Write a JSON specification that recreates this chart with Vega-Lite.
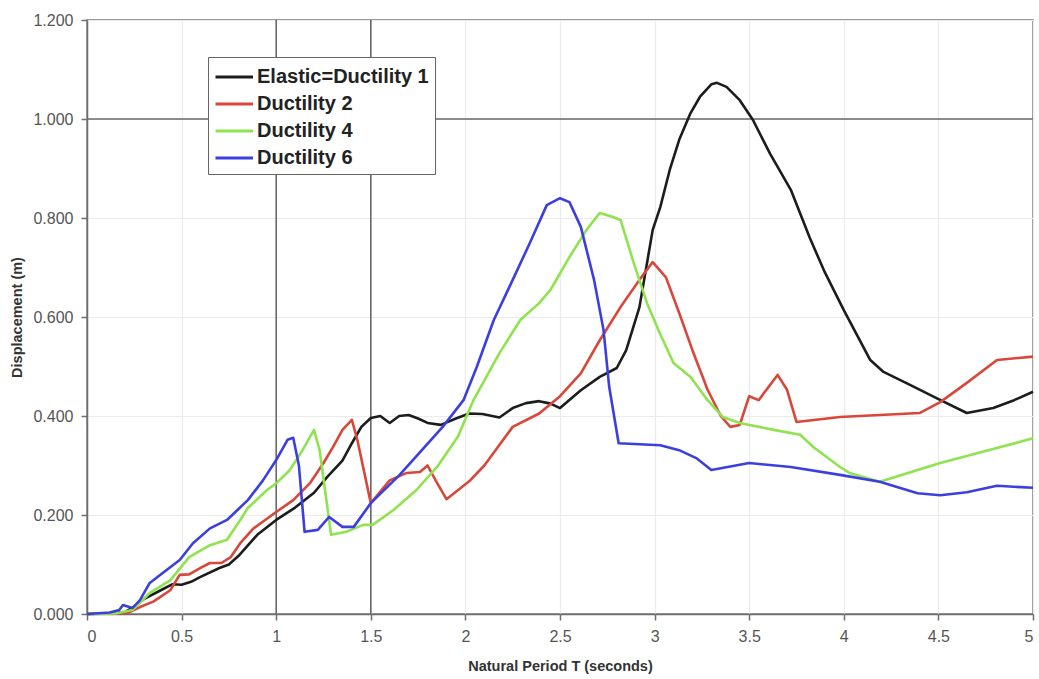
{
  "$schema": "https://vega.github.io/schema/vega-lite/v6.json",
  "width": 946,
  "height": 594,
  "autosize": {"type": "none"},
  "padding": {"left": 87, "top": 20, "right": 6, "bottom": 65},
  "background": "white",
  "config": {
    "font": "Liberation Sans",
    "view": {"stroke": "#7a7a7a", "strokeWidth": 1.5},
    "axis": {
      "labelColor": "#555",
      "labelFontSize": 16,
      "labelFont": "Liberation Sans",
      "domainColor": "#6e6e6e",
      "domainWidth": 1.5,
      "tickColor": "#6e6e6e",
      "tickSize": 6,
      "tickWidth": 1.5,
      "gridColor": "#ebebeb",
      "gridWidth": 1.2,
      "titleFont": "Liberation Sans",
      "titleFontWeight": "bold",
      "titleFontSize": 14.5,
      "titleColor": "#333"
    }
  },
  "datasets": {
    "curves": [
      {"T": 0, "D": 0, "series": "Elastic=Ductility 1"},
      {"T": 0.1, "D": 0.001, "series": "Elastic=Ductility 1"},
      {"T": 0.2, "D": 0.004, "series": "Elastic=Ductility 1"},
      {"T": 0.25, "D": 0.015, "series": "Elastic=Ductility 1"},
      {"T": 0.3, "D": 0.03, "series": "Elastic=Ductility 1"},
      {"T": 0.4, "D": 0.05, "series": "Elastic=Ductility 1"},
      {"T": 0.45, "D": 0.06, "series": "Elastic=Ductility 1"},
      {"T": 0.5, "D": 0.059, "series": "Elastic=Ductility 1"},
      {"T": 0.55, "D": 0.065, "series": "Elastic=Ductility 1"},
      {"T": 0.6, "D": 0.075, "series": "Elastic=Ductility 1"},
      {"T": 0.7, "D": 0.093, "series": "Elastic=Ductility 1"},
      {"T": 0.75, "D": 0.1, "series": "Elastic=Ductility 1"},
      {"T": 0.8, "D": 0.117, "series": "Elastic=Ductility 1"},
      {"T": 0.9, "D": 0.16, "series": "Elastic=Ductility 1"},
      {"T": 1.0, "D": 0.19, "series": "Elastic=Ductility 1"},
      {"T": 1.1, "D": 0.215, "series": "Elastic=Ductility 1"},
      {"T": 1.2, "D": 0.245, "series": "Elastic=Ductility 1"},
      {"T": 1.27, "D": 0.277, "series": "Elastic=Ductility 1"},
      {"T": 1.35, "D": 0.31, "series": "Elastic=Ductility 1"},
      {"T": 1.4, "D": 0.345, "series": "Elastic=Ductility 1"},
      {"T": 1.45, "D": 0.378, "series": "Elastic=Ductility 1"},
      {"T": 1.5, "D": 0.396, "series": "Elastic=Ductility 1"},
      {"T": 1.55, "D": 0.4, "series": "Elastic=Ductility 1"},
      {"T": 1.6, "D": 0.386, "series": "Elastic=Ductility 1"},
      {"T": 1.65, "D": 0.4, "series": "Elastic=Ductility 1"},
      {"T": 1.7, "D": 0.402, "series": "Elastic=Ductility 1"},
      {"T": 1.75, "D": 0.395, "series": "Elastic=Ductility 1"},
      {"T": 1.8, "D": 0.386, "series": "Elastic=Ductility 1"},
      {"T": 1.87, "D": 0.382, "series": "Elastic=Ductility 1"},
      {"T": 1.95, "D": 0.395, "series": "Elastic=Ductility 1"},
      {"T": 2.02, "D": 0.405, "series": "Elastic=Ductility 1"},
      {"T": 2.09, "D": 0.404, "series": "Elastic=Ductility 1"},
      {"T": 2.18, "D": 0.397, "series": "Elastic=Ductility 1"},
      {"T": 2.25, "D": 0.416, "series": "Elastic=Ductility 1"},
      {"T": 2.32, "D": 0.426, "series": "Elastic=Ductility 1"},
      {"T": 2.39, "D": 0.43, "series": "Elastic=Ductility 1"},
      {"T": 2.45, "D": 0.425, "series": "Elastic=Ductility 1"},
      {"T": 2.5, "D": 0.416, "series": "Elastic=Ductility 1"},
      {"T": 2.61, "D": 0.452, "series": "Elastic=Ductility 1"},
      {"T": 2.71, "D": 0.479, "series": "Elastic=Ductility 1"},
      {"T": 2.8, "D": 0.497, "series": "Elastic=Ductility 1"},
      {"T": 2.85, "D": 0.533, "series": "Elastic=Ductility 1"},
      {"T": 2.92, "D": 0.62, "series": "Elastic=Ductility 1"},
      {"T": 2.99, "D": 0.776, "series": "Elastic=Ductility 1"},
      {"T": 3.03, "D": 0.822, "series": "Elastic=Ductility 1"},
      {"T": 3.08, "D": 0.897, "series": "Elastic=Ductility 1"},
      {"T": 3.13, "D": 0.958, "series": "Elastic=Ductility 1"},
      {"T": 3.19, "D": 1.012, "series": "Elastic=Ductility 1"},
      {"T": 3.24, "D": 1.045, "series": "Elastic=Ductility 1"},
      {"T": 3.3, "D": 1.07, "series": "Elastic=Ductility 1"},
      {"T": 3.33, "D": 1.073, "series": "Elastic=Ductility 1"},
      {"T": 3.38, "D": 1.065, "series": "Elastic=Ductility 1"},
      {"T": 3.45, "D": 1.038, "series": "Elastic=Ductility 1"},
      {"T": 3.52, "D": 0.998, "series": "Elastic=Ductility 1"},
      {"T": 3.61, "D": 0.93, "series": "Elastic=Ductility 1"},
      {"T": 3.72, "D": 0.857, "series": "Elastic=Ductility 1"},
      {"T": 3.82, "D": 0.76, "series": "Elastic=Ductility 1"},
      {"T": 3.9, "D": 0.69, "series": "Elastic=Ductility 1"},
      {"T": 4.0, "D": 0.614, "series": "Elastic=Ductility 1"},
      {"T": 4.14, "D": 0.513, "series": "Elastic=Ductility 1"},
      {"T": 4.21, "D": 0.489, "series": "Elastic=Ductility 1"},
      {"T": 4.35, "D": 0.463, "series": "Elastic=Ductility 1"},
      {"T": 4.49, "D": 0.436, "series": "Elastic=Ductility 1"},
      {"T": 4.65, "D": 0.406, "series": "Elastic=Ductility 1"},
      {"T": 4.79, "D": 0.416, "series": "Elastic=Ductility 1"},
      {"T": 4.9, "D": 0.432, "series": "Elastic=Ductility 1"},
      {"T": 5.0, "D": 0.449, "series": "Elastic=Ductility 1"},

      {"T": 0, "D": 0, "series": "Ductility 2"},
      {"T": 0.15, "D": 0.001, "series": "Ductility 2"},
      {"T": 0.22, "D": 0.003, "series": "Ductility 2"},
      {"T": 0.28, "D": 0.014, "series": "Ductility 2"},
      {"T": 0.35, "D": 0.025, "series": "Ductility 2"},
      {"T": 0.39, "D": 0.035, "series": "Ductility 2"},
      {"T": 0.44, "D": 0.048, "series": "Ductility 2"},
      {"T": 0.49, "D": 0.079, "series": "Ductility 2"},
      {"T": 0.54, "D": 0.08, "series": "Ductility 2"},
      {"T": 0.6, "D": 0.093, "series": "Ductility 2"},
      {"T": 0.65, "D": 0.103, "series": "Ductility 2"},
      {"T": 0.71, "D": 0.103, "series": "Ductility 2"},
      {"T": 0.76, "D": 0.115, "series": "Ductility 2"},
      {"T": 0.81, "D": 0.143, "series": "Ductility 2"},
      {"T": 0.88, "D": 0.173, "series": "Ductility 2"},
      {"T": 1.0, "D": 0.206, "series": "Ductility 2"},
      {"T": 1.09, "D": 0.23, "series": "Ductility 2"},
      {"T": 1.18, "D": 0.265, "series": "Ductility 2"},
      {"T": 1.25, "D": 0.305, "series": "Ductility 2"},
      {"T": 1.3, "D": 0.337, "series": "Ductility 2"},
      {"T": 1.35, "D": 0.372, "series": "Ductility 2"},
      {"T": 1.4, "D": 0.392, "series": "Ductility 2"},
      {"T": 1.43, "D": 0.35, "series": "Ductility 2"},
      {"T": 1.5, "D": 0.224, "series": "Ductility 2"},
      {"T": 1.6, "D": 0.27, "series": "Ductility 2"},
      {"T": 1.69, "D": 0.285, "series": "Ductility 2"},
      {"T": 1.76, "D": 0.287, "series": "Ductility 2"},
      {"T": 1.8, "D": 0.3, "series": "Ductility 2"},
      {"T": 1.85, "D": 0.265, "series": "Ductility 2"},
      {"T": 1.9, "D": 0.232, "series": "Ductility 2"},
      {"T": 2.02, "D": 0.268, "series": "Ductility 2"},
      {"T": 2.1, "D": 0.3, "series": "Ductility 2"},
      {"T": 2.25, "D": 0.378, "series": "Ductility 2"},
      {"T": 2.39, "D": 0.405, "series": "Ductility 2"},
      {"T": 2.5, "D": 0.44, "series": "Ductility 2"},
      {"T": 2.61, "D": 0.486, "series": "Ductility 2"},
      {"T": 2.71, "D": 0.553, "series": "Ductility 2"},
      {"T": 2.82, "D": 0.62, "series": "Ductility 2"},
      {"T": 2.92, "D": 0.675, "series": "Ductility 2"},
      {"T": 2.99, "D": 0.711, "series": "Ductility 2"},
      {"T": 3.06, "D": 0.68, "series": "Ductility 2"},
      {"T": 3.13, "D": 0.608, "series": "Ductility 2"},
      {"T": 3.2, "D": 0.533, "series": "Ductility 2"},
      {"T": 3.28, "D": 0.453, "series": "Ductility 2"},
      {"T": 3.35, "D": 0.4, "series": "Ductility 2"},
      {"T": 3.4, "D": 0.378, "series": "Ductility 2"},
      {"T": 3.45, "D": 0.382, "series": "Ductility 2"},
      {"T": 3.5, "D": 0.44, "series": "Ductility 2"},
      {"T": 3.55, "D": 0.432, "series": "Ductility 2"},
      {"T": 3.65, "D": 0.483, "series": "Ductility 2"},
      {"T": 3.7, "D": 0.453, "series": "Ductility 2"},
      {"T": 3.75, "D": 0.388, "series": "Ductility 2"},
      {"T": 3.98, "D": 0.398, "series": "Ductility 2"},
      {"T": 4.4, "D": 0.406, "series": "Ductility 2"},
      {"T": 4.51, "D": 0.428, "series": "Ductility 2"},
      {"T": 4.65, "D": 0.467, "series": "Ductility 2"},
      {"T": 4.81, "D": 0.513, "series": "Ductility 2"},
      {"T": 5.0, "D": 0.52, "series": "Ductility 2"},

      {"T": 0, "D": 0, "series": "Ductility 4"},
      {"T": 0.15, "D": 0.001, "series": "Ductility 4"},
      {"T": 0.24, "D": 0.008, "series": "Ductility 4"},
      {"T": 0.33, "D": 0.042, "series": "Ductility 4"},
      {"T": 0.44, "D": 0.068, "series": "Ductility 4"},
      {"T": 0.54, "D": 0.115, "series": "Ductility 4"},
      {"T": 0.65, "D": 0.139, "series": "Ductility 4"},
      {"T": 0.74, "D": 0.15, "series": "Ductility 4"},
      {"T": 0.81, "D": 0.19, "series": "Ductility 4"},
      {"T": 0.85, "D": 0.214, "series": "Ductility 4"},
      {"T": 0.95, "D": 0.25, "series": "Ductility 4"},
      {"T": 1.0, "D": 0.264, "series": "Ductility 4"},
      {"T": 1.07, "D": 0.29, "series": "Ductility 4"},
      {"T": 1.13, "D": 0.325, "series": "Ductility 4"},
      {"T": 1.2, "D": 0.372, "series": "Ductility 4"},
      {"T": 1.23, "D": 0.33, "series": "Ductility 4"},
      {"T": 1.29, "D": 0.16, "series": "Ductility 4"},
      {"T": 1.37, "D": 0.166, "series": "Ductility 4"},
      {"T": 1.46, "D": 0.18, "series": "Ductility 4"},
      {"T": 1.51, "D": 0.18, "series": "Ductility 4"},
      {"T": 1.62, "D": 0.21, "series": "Ductility 4"},
      {"T": 1.74, "D": 0.25, "series": "Ductility 4"},
      {"T": 1.85, "D": 0.297, "series": "Ductility 4"},
      {"T": 1.96, "D": 0.358, "series": "Ductility 4"},
      {"T": 2.04, "D": 0.43, "series": "Ductility 4"},
      {"T": 2.18, "D": 0.527, "series": "Ductility 4"},
      {"T": 2.29, "D": 0.594, "series": "Ductility 4"},
      {"T": 2.39, "D": 0.628, "series": "Ductility 4"},
      {"T": 2.45, "D": 0.655, "series": "Ductility 4"},
      {"T": 2.55, "D": 0.721, "series": "Ductility 4"},
      {"T": 2.64, "D": 0.776, "series": "Ductility 4"},
      {"T": 2.71, "D": 0.81, "series": "Ductility 4"},
      {"T": 2.78, "D": 0.802, "series": "Ductility 4"},
      {"T": 2.82, "D": 0.796, "series": "Ductility 4"},
      {"T": 2.89, "D": 0.709, "series": "Ductility 4"},
      {"T": 2.96, "D": 0.628, "series": "Ductility 4"},
      {"T": 3.03, "D": 0.565, "series": "Ductility 4"},
      {"T": 3.1, "D": 0.507, "series": "Ductility 4"},
      {"T": 3.19, "D": 0.479, "series": "Ductility 4"},
      {"T": 3.28, "D": 0.432, "series": "Ductility 4"},
      {"T": 3.36, "D": 0.398, "series": "Ductility 4"},
      {"T": 3.45, "D": 0.386, "series": "Ductility 4"},
      {"T": 3.63, "D": 0.372, "series": "Ductility 4"},
      {"T": 3.77, "D": 0.362, "series": "Ductility 4"},
      {"T": 3.84, "D": 0.337, "series": "Ductility 4"},
      {"T": 3.98, "D": 0.297, "series": "Ductility 4"},
      {"T": 4.03, "D": 0.285, "series": "Ductility 4"},
      {"T": 4.19, "D": 0.267, "series": "Ductility 4"},
      {"T": 4.51, "D": 0.305, "series": "Ductility 4"},
      {"T": 5.0, "D": 0.355, "series": "Ductility 4"},

      {"T": 0, "D": 0, "series": "Ductility 6"},
      {"T": 0.12, "D": 0.003, "series": "Ductility 6"},
      {"T": 0.17, "D": 0.008, "series": "Ductility 6"},
      {"T": 0.19, "D": 0.018, "series": "Ductility 6"},
      {"T": 0.24, "D": 0.012, "series": "Ductility 6"},
      {"T": 0.28, "D": 0.028, "series": "Ductility 6"},
      {"T": 0.33, "D": 0.062, "series": "Ductility 6"},
      {"T": 0.4, "D": 0.083, "series": "Ductility 6"},
      {"T": 0.49, "D": 0.109, "series": "Ductility 6"},
      {"T": 0.56, "D": 0.143, "series": "Ductility 6"},
      {"T": 0.65, "D": 0.173, "series": "Ductility 6"},
      {"T": 0.74, "D": 0.19, "series": "Ductility 6"},
      {"T": 0.85, "D": 0.23, "series": "Ductility 6"},
      {"T": 0.93, "D": 0.27, "series": "Ductility 6"},
      {"T": 1.0, "D": 0.311, "series": "Ductility 6"},
      {"T": 1.06, "D": 0.352, "series": "Ductility 6"},
      {"T": 1.09, "D": 0.356, "series": "Ductility 6"},
      {"T": 1.12, "D": 0.3, "series": "Ductility 6"},
      {"T": 1.15, "D": 0.166, "series": "Ductility 6"},
      {"T": 1.22, "D": 0.17, "series": "Ductility 6"},
      {"T": 1.28, "D": 0.196, "series": "Ductility 6"},
      {"T": 1.35, "D": 0.176, "series": "Ductility 6"},
      {"T": 1.41, "D": 0.176, "series": "Ductility 6"},
      {"T": 1.5, "D": 0.224, "series": "Ductility 6"},
      {"T": 1.65, "D": 0.28, "series": "Ductility 6"},
      {"T": 1.88, "D": 0.378, "series": "Ductility 6"},
      {"T": 1.99, "D": 0.432, "series": "Ductility 6"},
      {"T": 2.06, "D": 0.499, "series": "Ductility 6"},
      {"T": 2.15, "D": 0.594, "series": "Ductility 6"},
      {"T": 2.25, "D": 0.675, "series": "Ductility 6"},
      {"T": 2.34, "D": 0.749, "series": "Ductility 6"},
      {"T": 2.43, "D": 0.826, "series": "Ductility 6"},
      {"T": 2.5, "D": 0.84, "series": "Ductility 6"},
      {"T": 2.55, "D": 0.832, "series": "Ductility 6"},
      {"T": 2.61, "D": 0.782, "series": "Ductility 6"},
      {"T": 2.68, "D": 0.675, "series": "Ductility 6"},
      {"T": 2.73, "D": 0.574, "series": "Ductility 6"},
      {"T": 2.76, "D": 0.459, "series": "Ductility 6"},
      {"T": 2.81, "D": 0.345, "series": "Ductility 6"},
      {"T": 3.03, "D": 0.341, "series": "Ductility 6"},
      {"T": 3.13, "D": 0.331, "series": "Ductility 6"},
      {"T": 3.22, "D": 0.315, "series": "Ductility 6"},
      {"T": 3.3, "D": 0.291, "series": "Ductility 6"},
      {"T": 3.5, "D": 0.305, "series": "Ductility 6"},
      {"T": 3.72, "D": 0.297, "series": "Ductility 6"},
      {"T": 3.98, "D": 0.281, "series": "Ductility 6"},
      {"T": 4.19, "D": 0.267, "series": "Ductility 6"},
      {"T": 4.39, "D": 0.244, "series": "Ductility 6"},
      {"T": 4.51, "D": 0.24, "series": "Ductility 6"},
      {"T": 4.65, "D": 0.246, "series": "Ductility 6"},
      {"T": 4.81, "D": 0.259, "series": "Ductility 6"},
      {"T": 5.0, "D": 0.255, "series": "Ductility 6"}
    ],
    "vlines": [{"T": 1}, {"T": 1.5}],
    "hlines": [{"D": 1}]
  },
  "layer": [
    {
      "data": {"name": "vlines"},
      "mark": {"type": "rule", "color": "#6a6a6a", "strokeWidth": 1.6},
      "encoding": {
        "x": {"field": "T", "type": "quantitative", "scale": {"domain": [0, 5]}}
      }
    },
    {
      "data": {"name": "hlines"},
      "mark": {"type": "rule", "color": "#6a6a6a", "strokeWidth": 1.6},
      "encoding": {
        "y": {"field": "D", "type": "quantitative", "scale": {"domain": [0, 1.2]}}
      }
    },
    {
      "data": {"name": "curves"},
      "mark": {"type": "line", "strokeWidth": 2.6, "strokeJoin": "round"},
      "encoding": {
        "x": {
          "field": "T",
          "type": "quantitative",
          "title": "Natural Period T (seconds)",
          "scale": {"domain": [0, 5], "nice": false},
          "axis": {
            "values": [0, 0.5, 1, 1.5, 2, 2.5, 3, 3.5, 4, 4.5, 5],
            "format": "~g",
            "labelPadding": 8,
            "titlePadding": 15
          }
        },
        "y": {
          "field": "D",
          "type": "quantitative",
          "title": "Displacement (m)",
          "scale": {"domain": [0, 1.2], "nice": false},
          "axis": {
            "values": [0, 0.2, 0.4, 0.6, 0.8, 1.0, 1.2],
            "format": ".3f",
            "labelPadding": 8,
            "titlePadding": 8
          }
        },
        "color": {
          "field": "series",
          "type": "nominal",
          "sort": ["Elastic=Ductility 1", "Ductility 2", "Ductility 4", "Ductility 6"],
          "scale": {
            "domain": ["Elastic=Ductility 1", "Ductility 2", "Ductility 4", "Ductility 6"],
            "range": ["#1c1c1c", "#d8473a", "#8fe34f", "#3b3fe0"]
          },
          "legend": {
            "title": null,
            "orient": "none",
            "legendX": 121,
            "legendY": 37,
            "symbolType": "M-1,0H2",
            "symbolSize": 625,
            "symbolStrokeWidth": 3,
            "labelFontSize": 20,
            "labelFontWeight": "bold",
            "labelColor": "#222",
            "labelFont": "Liberation Sans",
            "labelLimit": 400,
            "rowPadding": 3,
            "strokeColor": "#666",
            "fillColor": "white",
            "padding": 6,
            "labelOffset": 15
          }
        },
        "order": {"field": "T", "type": "quantitative"}
      }
    }
  ]
}
